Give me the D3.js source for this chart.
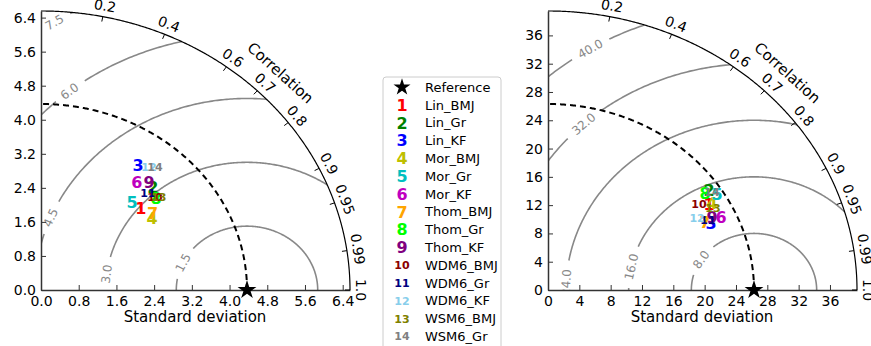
<!DOCTYPE html>
<meta charset="utf-8">
<style>
body{margin:0;background:#fff}
svg{position:absolute;left:0;top:0}
text{font-family:'DejaVu Sans',sans-serif}
</style>
<script src="https://d3js.org/d3.v7.min.js"></script>
<svg width="871" height="346"></svg>
<script>
// model names and marker colours (matplotlib style)
var models = ["Lin_BMJ","Lin_Gr","Lin_KF","Mor_BMJ","Mor_Gr","Mor_KF","Thom_BMJ","Thom_Gr","Thom_KF",
  "WDM6_BMJ","WDM6_Gr","WDM6_KF","WSM6_BMJ","WSM6_Gr"];
var colors = ["#ff0000","#008000","#0000ff","#bfbf00","#00bfbf","#bf00bf","#ffa500","#00ff00","#800080",
  "#8b0000","#000080","#87ceeb","#808000","#808080"];

// left panel: std dev and correlation of each model
var leftRef = 4.37;
var leftStd  = [2.86,3.39,3.59,2.90,2.83,3.25,2.98,3.26,3.42,3.26,3.22,3.69,3.32,3.77];
var leftCorr = [0.740,0.700,0.573,0.812,0.682,0.625,0.795,0.748,0.670,0.742,0.705,0.621,0.753,0.641];
var leftTicks = [0,0.8,1.6,2.4,3.2,4.0,4.8,5.6,6.4];
var leftRms = [1.5,3.0,4.5,6.0,7.5];

// right panel
var rightRef = 26.3;
var rightStd  = [23.88,24.94,22.87,24.29,25.49,24.38,22.23,24.28,23.35,22.79,22.70,21.58,24.04,25.11];
var rightCorr = [0.861,0.824,0.910,0.862,0.847,0.906,0.902,0.826,0.897,0.846,0.900,0.882,0.876,0.834];
var rightTicks = [0,4,8,12,16,20,24,28,32,36];
var rightRms = [8,16,24,32,40];

var corrTicks = [0.2,0.4,0.6,0.7,0.8,0.9,0.95,0.99,1.0];

var svg = d3.select("svg");

function taylor(o) {
  var g = svg.append("g");
  var max = o.ref * 1.5;
  var x = d3.scaleLinear().domain([0, max]).range([o.ox, o.ox + o.w]);
  var y = d3.scaleLinear().domain([0, max]).range([o.oy, o.oy - o.h]);
  var kx = o.w / max, ky = o.h / max;
  function px(r, t) { return [x(r * Math.cos(t)), y(r * Math.sin(t))]; }
  var quarter = d3.range(0, 90.25, 0.25).map(function(d) { return d * Math.PI / 180; });

  var clipId = "clip" + o.ox;
  g.append("clipPath").attr("id", clipId).append("path")
    .attr("d", "M" + px(0, 0) + "L" + quarter.map(function(t) { return px(max, t); }).join("L") + "Z");
  var cg = g.append("g").attr("clip-path", "url(#" + clipId + ")");

  // centred RMS difference contours
  o.rms.forEach(function(v, i) {
    var phi = o.rmsAt[i] * Math.PI / 180;
    var lp = [x(o.ref + v * Math.cos(phi)), y(v * Math.sin(phi))];
    var label = v.toFixed(1);
    var gap = label.length * 4 + 5;
    var segs = [], cur = [];
    d3.range(0, 360.5, 0.5).forEach(function(a) {
      var t = a * Math.PI / 180;
      var p = [x(o.ref + v * Math.cos(t)), y(v * Math.sin(t))];
      if (Math.hypot(p[0] - lp[0], p[1] - lp[1]) < gap) {
        if (cur.length > 1) segs.push(cur);
        cur = [];
      } else cur.push(p);
    });
    if (cur.length > 1) segs.push(cur);
    segs.forEach(function(s) {
      cg.append("path").attr("d", d3.line()(s))
        .attr("fill", "none").attr("stroke", "#888").attr("stroke-width", 1.6);
    });
    var ang = Math.atan2(-Math.cos(phi) * ky, -Math.sin(phi) * kx) * 180 / Math.PI;
    if (ang > 85) ang -= 180;
    if (ang < -95) ang += 180;
    cg.append("text")
      .attr("transform", "translate(" + lp + ") rotate(" + ang + ")")
      .attr("text-anchor", "middle").attr("dy", "0.35em")
      .attr("font-size", 12).attr("fill", "#888")
      .text(label);
  });

  // reference std dev arc
  cg.append("path")
    .attr("d", d3.line()(quarter.map(function(t) { return px(o.ref, t); })))
    .attr("fill", "none").attr("stroke", "#000").attr("stroke-width", 2)
    .attr("stroke-dasharray", "6,4");

  // axes
  var xa = g.append("g").attr("transform", "translate(0," + o.oy + ")")
    .call(d3.axisBottom(x).tickValues(o.ticks).tickFormat(o.fmt)
      .tickSizeInner(-5).tickSizeOuter(0).tickPadding(6));
  var ya = g.append("g").attr("transform", "translate(" + o.ox + ",0)")
    .call(d3.axisLeft(y).tickValues(o.ticks).tickFormat(o.fmt)
      .tickSizeInner(-5).tickSizeOuter(0).tickPadding(5));
  [xa, ya].forEach(function(a) {
    a.attr("font-size", 14).attr("font-family", "'DejaVu Sans',sans-serif");
    a.select(".domain").attr("stroke", "#333").attr("stroke-width", 1.5);
    a.selectAll(".tick line").attr("stroke", "#333");
  });

  // outer correlation arc
  g.append("path")
    .attr("d", d3.line()(quarter.map(function(t) { return px(max, t); })))
    .attr("fill", "none").attr("stroke", "#000").attr("stroke-width", 1.2);

  corrTicks.forEach(function(c) {
    var t = Math.acos(c);
    var p = px(max, t);
    var n = [Math.cos(t), -Math.sin(t)];
    g.append("line")
      .attr("x1", p[0]).attr("y1", p[1])
      .attr("x2", p[0] - 5 * n[0]).attr("y2", p[1] - 5 * n[1])
      .attr("stroke", "#000");
    var rot = Math.atan2(Math.cos(t) * ky, Math.sin(t) * kx) * 180 / Math.PI;
    g.append("text")
      .attr("transform", "translate(" + (p[0] + 11 * n[0]) + "," + (p[1] + 11 * n[1]) + ") rotate(" + rot + ")")
      .attr("text-anchor", "middle").attr("dy", "0.35em").attr("font-size", 14)
      .text(c === 1 ? "1.0" : String(c));
  });

  var t45 = Math.PI / 4, p45 = px(max, t45);
  g.append("text")
    .attr("transform", "translate(" + (p45[0] + 21) + "," + (p45[1] - 20) + ") rotate(" +
      (Math.atan2(Math.cos(t45) * ky, Math.sin(t45) * kx) * 180 / Math.PI) + ")")
    .attr("text-anchor", "middle").attr("dy", "0.35em").attr("font-size", 15)
    .text("Correlation");

  g.append("text").attr("x", o.ox + 154).attr("y", 322)
    .attr("text-anchor", "middle").attr("font-size", 15)
    .text("Standard deviation");

  // reference star
  g.append("path").attr("d", d3.symbol(d3.symbolStar, 110)())
    .attr("transform", "translate(" + x(o.ref) + "," + y(0) + ")")
    .attr("fill", "#000");

  // model markers
  o.std.forEach(function(s, i) {
    var p = px(s, Math.acos(o.corr[i]));
    g.append("text").attr("x", p[0]).attr("y", p[1])
      .attr("text-anchor", "middle").attr("dy", "0.36em")
      .attr("font-weight", "bold").attr("font-size", i < 9 ? 16 : 11)
      .attr("fill", colors[i])
      .text(i + 1);
  });
}

taylor({ox: 41, oy: 290, w: 309, h: 279, ref: leftRef, std: leftStd, corr: leftCorr,
  ticks: leftTicks, fmt: d3.format(".1f"), rms: leftRms, rmsAt: [154.7, 172.8, 157.8, 128.9, 123]});
taylor({ox: 548, oy: 290, w: 309, h: 279, ref: rightRef, std: rightStd, corr: rightCorr,
  ticks: rightTicks, fmt: d3.format("d"), rms: rightRms, rmsAt: [147.4, 168.2, 177.5, 132.8, 121.5]});

// legend
var lg = svg.append("g");
lg.append("rect").attr("x", 383).attr("y", 77).attr("width", 118).attr("height", 290)
  .attr("rx", 3).attr("fill", "#fff").attr("stroke", "#ccc");
var ly = d3.scaleLinear().domain([0, 14]).range([87.3, 336.5]);
lg.append("path").attr("d", d3.symbol(d3.symbolStar, 90)())
  .attr("transform", "translate(402," + ly(0) + ")").attr("fill", "#000");
lg.append("text").attr("x", 425).attr("y", ly(0)).attr("dy", "0.35em")
  .attr("font-size", 13).text("Reference");
models.forEach(function(m, i) {
  lg.append("text").attr("x", 402).attr("y", ly(i + 1)).attr("dy", "0.36em")
    .attr("text-anchor", "middle").attr("font-weight", "bold")
    .attr("font-size", i < 9 ? 16 : 11).attr("fill", colors[i]).text(i + 1);
  lg.append("text").attr("x", 425).attr("y", ly(i + 1)).attr("dy", "0.35em")
    .attr("font-size", 13).text(m);
});
</script>
